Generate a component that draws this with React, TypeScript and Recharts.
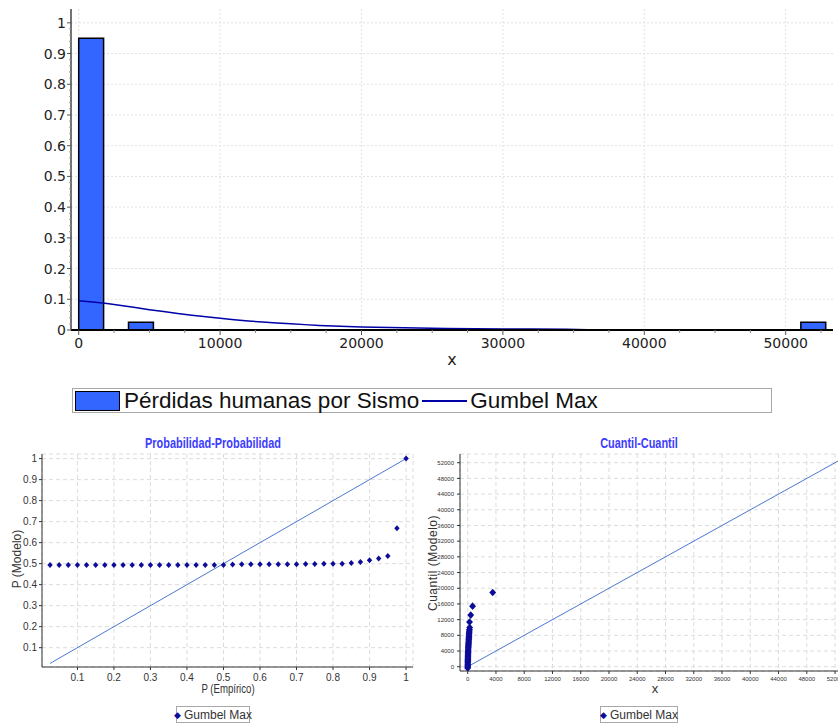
import React from "react";
import {
  CartesianGrid,
  ComposedChart,
  Line,
  ReferenceArea,
  Scatter,
  XAxis,
  YAxis,
} from "recharts";

// ---- histograma: frecuencia relativa por clase ----
const binFrom = [0, 3522, 51069];
const binTo = [1761, 5283, 52830];
const binFreq = [0.95, 0.025, 0.025];

// ---- densidad Gumbel Max (escalada al ancho de clase) ----
const gumbelX = [
  0, 1000, 2000, 3000, 4000, 5000, 6000, 7000, 8000, 9000, 10000, 11000, 12000, 13000, 14000,
  15000, 16000, 17000, 18000, 19000, 20000, 22000, 24000, 26000, 28000, 30000, 32000, 34500,
  36000, 40000, 45000, 53000,
];
const gumbelY = [
  0.0955, 0.091, 0.086, 0.08, 0.073, 0.066, 0.06, 0.054, 0.048, 0.043, 0.038, 0.033, 0.029,
  0.026, 0.023, 0.02, 0.0175, 0.015, 0.013, 0.0115, 0.01, 0.008, 0.0065, 0.005, 0.004, 0.0035,
  0.003, 0.0025, 0.001, 0.0007, 0.0004, 0.0002,
];

const histXTicks = [
  0, 2500, 5000, 7500, 10000, 12500, 15000, 17500, 20000, 22500, 25000, 27500, 30000, 32500,
  35000, 37500, 40000, 42500, 45000, 47500, 50000, 52500,
];
const histXGrid = [0, 10000, 20000, 30000, 40000, 50000];
const histYTicks = [
  0, 0.02, 0.04, 0.06, 0.08, 0.1, 0.12, 0.14, 0.16, 0.18, 0.2, 0.22, 0.24, 0.26, 0.28, 0.3,
  0.32, 0.34, 0.36, 0.38, 0.4, 0.42, 0.44, 0.46, 0.48, 0.5, 0.52, 0.54, 0.56, 0.58, 0.6, 0.62,
  0.64, 0.66, 0.68, 0.7, 0.72, 0.74, 0.76, 0.78, 0.8, 0.82, 0.84, 0.86, 0.88, 0.9, 0.92, 0.94,
  0.96, 0.98, 1,
];
const histYGrid = [0.1, 0.2, 0.3, 0.4, 0.5, 0.6, 0.7, 0.8, 0.9, 1];

// ---- Probabilidad-Probabilidad ----
const ppEmpirico = [
  0.025, 0.05, 0.075, 0.1, 0.125, 0.15, 0.175, 0.2, 0.225, 0.25, 0.275, 0.3, 0.325, 0.35, 0.375,
  0.4, 0.425, 0.45, 0.475, 0.5, 0.525, 0.55, 0.575, 0.6, 0.625, 0.65, 0.675, 0.7, 0.725, 0.75,
  0.775, 0.8, 0.825, 0.85, 0.875, 0.9, 0.925, 0.95, 0.975, 1,
];
const ppModelo = [
  0.493, 0.493, 0.493, 0.493, 0.493, 0.493, 0.493, 0.494, 0.494, 0.494, 0.494, 0.494, 0.494,
  0.494, 0.494, 0.494, 0.494, 0.494, 0.494, 0.494, 0.496, 0.497, 0.497, 0.497, 0.497, 0.497,
  0.497, 0.497, 0.498, 0.498, 0.499, 0.499, 0.5, 0.503, 0.508, 0.516, 0.524, 0.537, 0.669, 1,
];
const ppDiagX = [0.025, 1];
const ppTicks = [0.1, 0.2, 0.3, 0.4, 0.5, 0.6, 0.7, 0.8, 0.9, 1];

// ---- Cuantil-Cuantil ----
const qqEmpirico = [
  0, 5, 5, 10, 10, 15, 20, 20, 25, 30, 35, 40, 45, 50, 55, 60, 70, 75, 80, 90, 100, 110, 120,
  130, 140, 150, 160, 170, 180, 190, 200, 210, 230, 250, 280, 260, 425, 690, 3540,
];
const qqModelo = [
  -350, -100, 150, 450, 700, 1000, 1300, 1550, 1850, 2150, 2450, 2750, 3000, 3300, 3600, 3900,
  4200, 4500, 4800, 5100, 5350, 5650, 5950, 6250, 6550, 6850, 7150, 7450, 7750, 8050, 8400,
  8750, 9100, 9500, 10000, 11400, 13150, 15430, 18920,
];
const qqDiagX = [50, 52830];
const qqTicks = [
  0, 4000, 8000, 12000, 16000, 20000, 24000, 28000, 32000, 36000, 40000, 44000, 48000, 52000,
];

const binData = binFrom.map((from, i) => ({ from, to: binTo[i], freq: binFreq[i] }));
const gumbelData = gumbelX.map((x, i) => ({ x, y: gumbelY[i] }));
const ppData = ppEmpirico.map((x, i) => ({ x, y: ppModelo[i] }));
const ppDiag = ppDiagX.map((x) => ({ x, y: x }));
const qqData = qqEmpirico.map((x, i) => ({ x, y: qqModelo[i] }));
const qqDiag = qqDiagX.map((x) => ({ x, y: x }));

const BAR_BLUE = "#3366ff";
const CURVE_BLUE = "#0000a8";
const POINT_BLUE = "#0c0c98";
const DIAG_BLUE = "#4a78d0";
const TITLE_BLUE = "#3c3cff";
const NARROW = "'Liberation Sans Narrow', 'Liberation Sans', Arial, sans-serif";
const SANS = "'Liberation Sans', Arial, sans-serif";

function HistXTick(props: any) {
  const { x, y, payload } = props;
  const major = payload.value % 10000 === 0;
  return (
    <g>
      <line x1={x} x2={x} y1={y} y2={y + (major ? 5 : 3)} stroke={major ? "#555" : "#888"} />
      {major && (
        <text x={x} y={y + 18} textAnchor="middle" fontSize={14} fontFamily="DejaVu Sans" fill="#222">
          {payload.value}
        </text>
      )}
    </g>
  );
}

function HistYTick(props: any) {
  const { x, y, payload } = props;
  const major = Math.abs(payload.value * 10 - Math.round(payload.value * 10)) < 1e-6;
  return (
    <g>
      <line x1={x} x2={x - (major ? 4 : 2)} y1={y} y2={y} stroke={major ? "#555" : "#999"} />
      {major && (
        <text x={x - 5} y={y} dy="0.36em" textAnchor="end" fontSize={14} fontFamily="DejaVu Sans" fill="#222">
          {payload.value}
        </text>
      )}
    </g>
  );
}

const diamond = (r: number) => (p: any) => {
  const { cx, cy } = p;
  if (cx == null || cy == null) return <g />;
  const w = r * 0.9;
  return (
    <path
      d={`M${cx},${cy - r}L${cx + w},${cy}L${cx},${cy + r}L${cx - w},${cy}Z`}
      fill={POINT_BLUE}
    />
  );
};

function Histograma() {
  return (
    <ComposedChart width={838} height={375} margin={{ top: 9, right: 5, bottom: 0, left: 0 }}>
      <CartesianGrid
        stroke="#e2e2e2"
        strokeDasharray="2 2"
        verticalValues={histXGrid}
        horizontalValues={histYGrid}
      />
      <XAxis
        type="number"
        dataKey="x"
        domain={[-545, 53345]}
        ticks={histXTicks}
        interval={0}
        tick={<HistXTick />}
        tickLine={false}
        tickSize={0}
        tickMargin={0}
        height={45}
        axisLine={{ stroke: "#000", strokeWidth: 2 }}
        allowDataOverflow
      />
      <YAxis
        type="number"
        dataKey="y"
        domain={[0, 1.045]}
        ticks={histYTicks}
        interval={0}
        tick={<HistYTick />}
        tickLine={false}
        tickSize={0}
        tickMargin={0}
        width={71}
        axisLine={{ stroke: "#444", strokeWidth: 1.5 }}
        allowDataOverflow
      />
      <ReferenceArea fill="none" stroke="#8c8c8c" strokeWidth={1.5} />
      {binData.map((b) => (
        <ReferenceArea
          key={b.from}
          x1={b.from}
          x2={b.to}
          y1={0}
          y2={b.freq}
          fill={BAR_BLUE}
          fillOpacity={1}
          stroke="#000"
          strokeWidth={1.5}
        />
      ))}
      <Line
        data={gumbelData}
        dataKey="y"
        type="linear"
        stroke={CURVE_BLUE}
        strokeWidth={1.5}
        dot={false}
        isAnimationActive={false}
      />
    </ComposedChart>
  );
}

function PP() {
  return (
    <ComposedChart width={426} height={265} margin={{ top: 14, right: 13, bottom: 0, left: 0 }}>
      <CartesianGrid stroke="#dcdcdc" strokeDasharray="4 3" />
      <XAxis
        type="number"
        dataKey="x"
        domain={[0.003, 1.019]}
        ticks={ppTicks}
        interval={0}
        tickSize={3}
        tickMargin={4}
        height={38}
        tick={{ fontSize: 10, fill: "#333", fontFamily: NARROW }}
        axisLine={{ stroke: "#333" }}
        tickLine={{ stroke: "#333" }}
        allowDataOverflow
      />
      <YAxis
        type="number"
        dataKey="y"
        domain={[0.008, 1.022]}
        ticks={ppTicks}
        interval={0}
        tickSize={3}
        tickMargin={2}
        width={42}
        tick={{ fontSize: 10, fill: "#333", fontFamily: NARROW }}
        axisLine={{ stroke: "#333" }}
        tickLine={{ stroke: "#333" }}
        allowDataOverflow
      />
      <ReferenceArea fill="none" stroke="#707070" strokeWidth={1.5} />
      <Line
        data={ppDiag}
        dataKey="y"
        type="linear"
        stroke={DIAG_BLUE}
        strokeWidth={1}
        dot={false}
        isAnimationActive={false}
      />
      <Scatter data={ppData} shape={diamond(3)} isAnimationActive={false} />
    </ComposedChart>
  );
}

function QQ() {
  return (
    <ComposedChart width={426} height={265} margin={{ top: 14, right: 12, bottom: 0, left: 0 }}>
      <CartesianGrid stroke="#dcdcdc" strokeDasharray="4 3" />
      <XAxis
        type="number"
        dataKey="x"
        domain={[-1090, 52700]}
        ticks={qqTicks}
        interval={0}
        tickSize={3}
        tickMargin={3}
        height={34}
        tick={{ fontSize: 6, fill: "#333", fontFamily: NARROW }}
        axisLine={{ stroke: "#333" }}
        tickLine={{ stroke: "#333" }}
        allowDataOverflow
      />
      <YAxis
        type="number"
        dataKey="y"
        domain={[-1096, 54220]}
        ticks={qqTicks}
        interval={0}
        tickSize={3}
        tickMargin={3}
        width={34}
        tick={{ fontSize: 6, fill: "#333", fontFamily: NARROW }}
        axisLine={{ stroke: "#333" }}
        tickLine={{ stroke: "#333" }}
        allowDataOverflow
      />
      <ReferenceArea fill="none" stroke="#707070" strokeWidth={1.5} />
      <Line
        data={qqDiag}
        dataKey="y"
        type="linear"
        stroke={DIAG_BLUE}
        strokeWidth={1}
        dot={false}
        isAnimationActive={false}
      />
      <Scatter data={qqData} shape={diamond(3.8)} isAnimationActive={false} />
    </ComposedChart>
  );
}

const abs = (left: number, top: number, extra: React.CSSProperties = {}): React.CSSProperties => ({
  position: "absolute",
  left,
  top,
  ...extra,
});

function SmallLegend({ left, width }: { left: number; width: number }) {
  return (
    <div
      style={abs(left, 706, {
        width,
        height: 17,
        border: "1px solid #a8a8a8",
        boxSizing: "border-box",
        display: "flex",
        alignItems: "center",
        justifyContent: "center",
        fontFamily: NARROW,
        fontSize: 12,
        color: "#333",
        whiteSpace: "nowrap",
      })}
    >
      <span style={{ color: POINT_BLUE, fontSize: 9, marginRight: 3 }}>◆</span>
      Gumbel Max
    </div>
  );
}

export default function App() {
  return (
    <div
      style={{
        position: "fixed",
        left: 0,
        top: 0,
        width: 838,
        height: 725,
        overflow: "hidden",
        background: "#fff",
        fontFamily: SANS,
      }}
    >
      <div style={abs(0, 0)}>
        <Histograma />
      </div>
      <div style={abs(402, 350, { width: 100, textAlign: "center", fontFamily: "DejaVu Sans", fontSize: 16, color: "#222" })}>
        x
      </div>

      {/* leyenda del histograma */}
      <div
        style={abs(72, 388, {
          width: 700,
          height: 25,
          border: "1px solid #a8a8a8",
          boxSizing: "border-box",
          display: "flex",
          alignItems: "center",
          fontFamily: SANS,
          fontSize: 22.5,
          color: "#111",
          whiteSpace: "nowrap",
        })}
      >
        <span
          style={{
            display: "inline-block",
            width: 43,
            height: 18,
            marginLeft: 2,
            marginRight: 4,
            background: BAR_BLUE,
            border: "1.5px solid #000",
          }}
        />
        <span>Pérdidas humanas por Sismo</span>
        <span
          style={{ display: "inline-block", width: 45, height: 0, borderTop: `2px solid ${CURVE_BLUE}`, margin: "0 3px" }}
        />
        <span>Gumbel Max</span>
      </div>

      {/* Probabilidad-Probabilidad */}
      <div
        style={abs(0, 435, {
          width: 426,
          textAlign: "center",
          fontFamily: SANS,
          fontWeight: "bold",
          fontSize: 14,
          color: TITLE_BLUE,
          transform: "scaleX(0.78)",
        })}
      >
        Probabilidad-Probabilidad
      </div>
      <div style={abs(0, 440)}>
        <PP />
      </div>
      <div
        style={abs(-33, 552, {
          width: 100,
          textAlign: "center",
          fontSize: 12,
          color: "#333",
          transform: "rotate(-90deg)",
        })}
      >
        P (Modelo)
      </div>
      <div style={abs(178, 682, { width: 100, textAlign: "center", fontSize: 12, color: "#333", transform: "scaleX(0.8)" })}>
        P (Empírico)
      </div>
      <SmallLegend left={176} width={74} />

      {/* Cuantil-Cuantil */}
      <div
        style={abs(426, 435, {
          width: 426,
          textAlign: "center",
          fontFamily: SANS,
          fontWeight: "bold",
          fontSize: 14,
          color: TITLE_BLUE,
          transform: "scaleX(0.78)",
        })}
      >
        Cuantil-Cuantil
      </div>
      <div style={abs(426, 440)}>
        <QQ />
      </div>
      <div
        style={abs(383, 556, {
          width: 100,
          textAlign: "center",
          fontSize: 12,
          color: "#333",
          letterSpacing: 0.5,
          transform: "rotate(-90deg)",
        })}
      >
        Cuantil (Modelo)
      </div>
      <div style={abs(605, 681, { width: 100, textAlign: "center", fontSize: 13, color: "#333" })}>x</div>
      <SmallLegend left={600} width={78} />
    </div>
  );
}
